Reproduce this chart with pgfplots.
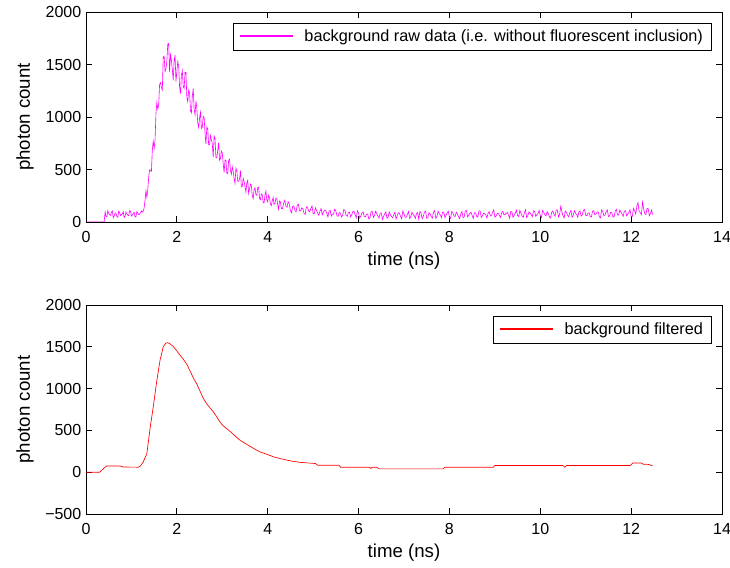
\documentclass[border=0pt]{standalone}
\usepackage{pgfplots}
\pgfplotsset{compat=1.18}
\usepackage{fontspec}
\setmainfont{Liberation Sans}

\definecolor{rawmag}{RGB}{255,0,255}
\definecolor{filtred}{RGB}{255,0,0}

% 1 px of the reference = 0.75pt
\pgfplotsset{
  matlabstyle/.style={
    scale only axis,
    width=477pt,
    xmin=0, xmax=14,
    xtick={0,2,4,6,8,10,12,14},
    tick pos=both,
    tick align=inside,
    major tick length=4.5pt,
    axis line style={line width=0.6pt},
    every tick/.style={black, line width=0.6pt},
    /pgf/number format/assume math mode=true,
    /pgf/number format/1000 sep={},
    tick label style={font=\fontsize{12}{14}\selectfont},
    xticklabel style={yshift=-3.5pt},
    label style={font=\fontsize{14}{16}\selectfont},
    xlabel={time (ns)},
    ylabel={photon count},
    ylabel style={at={(axis description cs:-0.096,0.5)}, anchor=center},
    legend cell align=left,
    legend style={
      at={(rel axis cs:1,1)}, anchor=north east,
      xshift=-7.5pt, yshift=-8pt,
      draw=black, line width=0.6pt, fill=white,
      font=\fontsize{12.2}{14}\selectfont,
      inner xsep=4.5pt, inner ysep=3pt,
      /tikz/every odd column/.append style={column sep=6pt},
    },
    legend image code/.code={%
      \draw[#1, line width=1pt] (0pt,0.5pt) -- (40pt,0.5pt);},
  }
}

\begin{document}
\begin{tikzpicture}
\useasboundingbox (0,0) rectangle (547.5pt,425.25pt);

% ---- top: raw data
\begin{axis}[
  matlabstyle,
  at={(64.5pt,258.75pt)}, anchor=south west,
  height=157.5pt,
  ymin=0, ymax=2000,
  ytick={0,500,1000,1500,2000},
]
\addplot[color=rawmag, line width=0.45pt] coordinates {
(0,0) (0.40,0)
(0.42,96) (0.44,54) (0.46,48) (0.48,107) (0.50,81) (0.52,68) (0.54,63) (0.56,93) (0.58,105) (0.60,40)
(0.62,57) (0.64,86) (0.66,84) (0.68,50) (0.70,45) (0.72,103) (0.74,90) (0.76,61) (0.78,69) (0.80,79)
(0.82,99) (0.84,43) (0.86,54) (0.88,96) (0.90,78) (0.92,64) (0.94,60) (0.96,110) (0.98,102) (1.00,57)
(1.02,66) (1.04,82) (1.06,93) (1.08,47) (1.10,51) (1.12,100) (1.14,87) (1.16,71) (1.18,72) (1.20,89)
(1.22,105) (1.24,95)
(1.26,103) (1.28,135) (1.30,210) (1.32,297) (1.34,235) (1.36,309) (1.38,428) (1.40,498) (1.42,488) (1.44,481)
(1.46,687) (1.48,767) (1.50,701) (1.52,782) (1.54,1036) (1.56,1140) (1.58,1077) (1.60,1113) (1.62,1312) (1.64,1326)
(1.66,1279) (1.68,1258) (1.70,1570) (1.72,1579) (1.74,1432) (1.76,1458) (1.78,1534) (1.80,1695) (1.82,1700) (1.84,1428)
(1.86,1592) (1.88,1537) (1.90,1454) (1.92,1349) (1.94,1534) (1.96,1591) (1.98,1338) (2.00,1431) (2.02,1528) (2.04,1488)
(2.06,1287) (2.08,1222) (2.10,1401) (2.12,1441) (2.14,1289) (2.16,1271) (2.18,1426) (2.20,1425) (2.22,1186) (2.24,1145)
(2.26,1257) (2.28,1231) (2.30,1060) (2.32,1038) (2.34,1199) (2.36,1271) (2.38,1077) (2.40,1021) (2.42,1151) (2.44,1084)
(2.46,942) (2.48,901) (2.50,991) (2.52,1046) (2.54,891) (2.56,901) (2.58,1005) (2.60,999) (2.62,844) (2.64,741)
(2.66,906) (2.68,882) (2.70,735) (2.72,737) (2.74,824) (2.76,783) (2.78,745) (2.80,618) (2.82,819) (2.84,794)
(2.86,612) (2.88,610) (2.90,683) (2.92,756) (2.94,587) (2.96,605) (2.98,676) (3.00,657) (3.02,556) (3.04,470)
(3.06,590) (3.08,587) (3.10,463) (3.12,462) (3.14,589) (3.16,597) (3.18,489) (3.20,455) (3.22,524) (3.24,485)
(3.26,413) (3.28,369) (3.30,512) (3.32,491) (3.34,389) (3.36,387) (3.38,412) (3.40,488) (3.42,335) (3.44,338)
(3.46,416) (3.48,385) (3.50,340) (3.52,285) (3.54,371) (3.56,396) (3.58,272) (3.60,316) (3.62,361) (3.64,344)
(3.66,251) (3.68,222) (3.70,306) (3.72,326) (3.74,258) (3.76,254) (3.78,328) (3.80,331) (3.82,226) (3.84,212)
(3.86,267) (3.88,259) (3.90,186) (3.92,181) (3.94,258) (3.96,294) (3.98,212) (4.00,192) (4.02,255) (4.04,230)
(4.06,171) (4.08,157) (4.10,203) (4.12,232) (4.14,167) (4.16,176) (4.18,226) (4.20,228) (4.22,163) (4.24,121)
(4.26,199) (4.28,191) (4.30,129)
(4.325,128) (4.35,178) (4.375,207) (4.40,151) (4.425,141) (4.45,193) (4.475,175) (4.50,107) (4.525,88) (4.55,148)
(4.575,153) (4.60,110) (4.625,97) (4.65,159) (4.675,170) (4.70,111) (4.725,105) (4.75,135) (4.775,126) (4.80,81)
(4.825,73) (4.85,145) (4.875,142) (4.90,105) (4.925,96) (4.95,128) (4.975,154) (5.00,81) (5.025,81) (5.05,135)
(5.075,110) (5.10,83) (5.125,63) (5.15,102) (5.175,128) (5.20,68) (5.225,91) (5.25,115) (5.275,110) (5.30,82)
(5.325,48) (5.35,104) (5.375,110) (5.40,56) (5.425,74) (5.45,76) (5.475,122) (5.50,105) (5.525,58) (5.55,54)
(5.575,90) (5.60,85) (5.625,48) (5.65,63) (5.675,120) (5.70,111) (5.725,63) (5.75,54) (5.775,90) (5.80,95)
(5.825,49) (5.85,69) (5.875,100) (5.90,103) (5.925,67) (5.95,39) (5.975,106) (6.00,84) (6.025,37) (6.05,58)
(6.075,88) (6.10,96) (6.125,51) (6.15,49) (6.175,74) (6.20,76) (6.225,29) (6.25,37) (6.275,96) (6.30,102)
(6.325,43) (6.35,62) (6.375,102) (6.40,79) (6.425,57) (6.45,37) (6.475,85) (6.50,86) (6.525,25) (6.55,54)
(6.575,77) (6.60,97) (6.625,37) (6.65,47) (6.675,97) (6.70,69) (6.725,49) (6.75,40) (6.775,69) (6.80,93)
(6.825,29) (6.85,58) (6.875,89) (6.90,83) (6.925,53) (6.95,30) (6.975,105) (7.00,76) (7.025,45) (7.05,44)
(7.075,73) (7.10,100) (7.125,33) (7.15,51) (7.175,93) (7.20,72) (7.225,61) (7.25,34) (7.275,81) (7.30,90)
(7.325,26) (7.35,101) (7.375,86) (7.40,31) (7.425,55) (7.45,95) (7.475,103) (7.50,36) (7.525,44) (7.55,89)
(7.575,76) (7.60,50) (7.625,37) (7.65,94) (7.675,109) (7.70,34) (7.725,54) (7.75,102) (7.775,82) (7.80,67)
(7.825,42) (7.85,95) (7.875,94) (7.90,42) (7.925,62) (7.95,88) (7.975,103) (8.00,46) (8.025,35) (8.05,99)
(8.075,87) (8.10,57) (8.125,52) (8.15,93) (8.175,76) (8.20,51) (8.225,32) (8.25,76) (8.275,100) (8.30,40)
(8.325,49) (8.35,108) (8.375,109) (8.40,49) (8.425,65) (8.45,84) (8.475,93) (8.50,63) (8.525,34) (8.55,88)
(8.575,86) (8.60,53) (8.625,46) (8.65,106) (8.675,106) (8.70,43) (8.725,58) (8.75,85) (8.775,78) (8.80,67)
(8.825,39) (8.85,82) (8.875,99) (8.90,58) (8.925,63) (8.95,93) (8.975,115) (9.00,47) (9.025,55) (9.05,79)
(9.075,83) (9.10,61) (9.125,43) (9.15,89) (9.175,103) (9.20,68) (9.225,71) (9.25,82) (9.275,91) (9.30,65)
(9.325,36) (9.35,101) (9.375,96) (9.40,44) (9.425,64) (9.45,83) (9.475,112) (9.50,62) (9.525,52) (9.55,111)
(9.575,85) (9.60,56) (9.625,45) (9.65,88) (9.675,117) (9.70,42) (9.725,61) (9.75,95) (9.775,89) (9.80,70)
(9.825,50) (9.85,106) (9.875,102) (9.90,54) (9.925,70) (9.95,82) (9.975,110) (10.00,61) (10.025,42) (10.05,110)
(10.075,94) (10.10,68) (10.125,58) (10.15,99) (10.175,82) (10.20,50) (10.225,38) (10.25,92) (10.275,106) (10.30,75)
(10.325,55) (10.35,114) (10.375,115) (10.40,48) (10.425,71) (10.45,150) (10.475,99) (10.50,58) (10.525,39) (10.55,104)
(10.575,91) (10.60,65) (10.625,51) (10.65,90) (10.675,111) (10.70,44) (10.725,64) (10.75,108) (10.775,84) (10.80,73)
(10.825,44) (10.85,98) (10.875,104) (10.90,56) (10.925,68) (10.95,112) (10.975,120) (11.00,63) (11.025,60) (11.05,84)
(11.075,88) (11.10,52) (11.125,48) (11.15,101) (11.175,108) (11.20,70) (11.225,76) (11.25,94) (11.275,96) (11.30,49)
(11.325,40) (11.35,115) (11.375,100) (11.40,59) (11.425,68) (11.45,98) (11.475,116) (11.50,52) (11.525,57) (11.55,92)
(11.575,89) (11.60,46) (11.625,49) (11.65,106) (11.675,121) (11.70,67) (11.725,66) (11.75,114) (11.775,94) (11.80,75)
(11.825,54) (11.85,103) (11.875,107) (11.90,59) (11.925,76) (11.95,91) (11.975,117) (12.00,55) (12.025,52) (12.05,130)
(12.075,108) (12.10,75) (12.125,150) (12.15,185) (12.175,102) (12.20,90) (12.225,70) (12.25,190) (12.275,124) (12.30,80)
(12.325,70) (12.35,130) (12.375,128) (12.40,60) (12.425,82) (12.45,115) (12.47,70)
};
\legend{background raw data (i.e. without fluorescent inclusion)}
\end{axis}

% ---- bottom: filtered
\begin{axis}[
  matlabstyle,
  at={(64.5pt,39.75pt)}, anchor=south west,
  height=156.75pt,
  ymin=-500, ymax=2000,
  ytick={-500,0,500,1000,1500,2000},
  yticklabels={−500,0,500,1000,1500,2000},
]
\addplot[color=filtred, line width=0.5pt] coordinates {
(0,0) (0.30,0) (0.38,40) (0.45,75) (0.75,75) (0.82,62) (1.15,60) (1.20,75) (1.26,123) (1.34,224)
(1.41,523) (1.48,781) (1.56,1100) (1.63,1340) (1.70,1500) (1.76,1545) (1.80,1550) (1.85,1535) (1.92,1505) (2.00,1450)
(2.07,1400) (2.15,1345) (2.22,1290) (2.30,1200) (2.37,1120) (2.44,1055) (2.51,970) (2.58,885) (2.66,815) (2.73,770)
(2.80,725) (2.88,660) (2.95,600) (3.02,555) (3.10,520) (3.20,475) (3.30,425) (3.39,383) (3.50,345) (3.61,310)
(3.72,275) (3.83,243) (4.00,210) (4.15,180) (4.27,164) (4.50,135) (4.71,118) (4.95,108) (5.05,104) (5.10,84)
(5.57,84) (5.60,60) (6.24,60) (6.27,45) (6.30,60) (6.40,60) (6.45,40) (7.87,40) (7.90,60) (8.97,60)
(9.00,80) (10.50,80) (10.54,58) (10.58,80) (11.98,80) (12.04,111) (12.22,111) (12.27,95) (12.38,93) (12.47,75)
};
\legend{background filtered}
\end{axis}
\end{tikzpicture}
\end{document}
